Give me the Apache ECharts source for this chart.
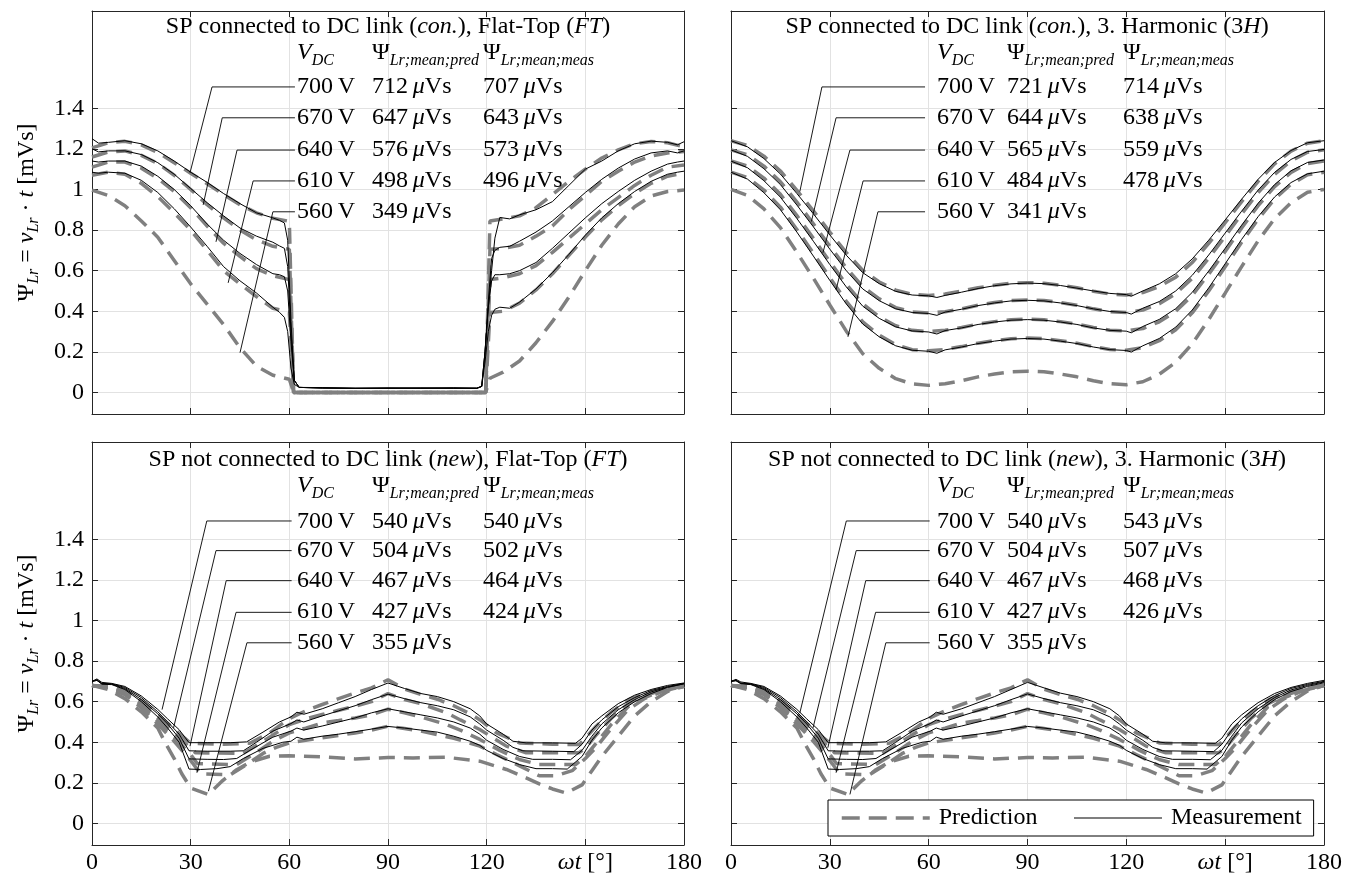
<!DOCTYPE html>
<html><head><meta charset="utf-8">
<script src="https://cdn.jsdelivr.net/npm/echarts@6/dist/echarts.min.js"></script>
<style>html,body{margin:0;padding:0;background:#fff}#c{width:1358px;height:884px}</style>
</head><body><div id="c"></div><script>
// ---------- DATA ----------
const voltLabels = ['700 V','670 V','640 V','610 V','560 V'];
const tlPredText = ['712','647','576','498','349'];
const tlMeasText = ['707','643','573','496'];
const trPredText = ['721','644','565','484','341'];
const trMeasText = ['714','638','559','478'];
const blPredText = ['540','504','467','427','355'];
const blMeasText = ['540','502','464','424'];
const brPredText = ['540','504','467','427','355'];
const brMeasText = ['543','507','468','426'];
const yTicks = [0,0.2,0.4,0.6,0.8,1,1.2,1.4];

// Top-left: SP con., Flat-Top
const tlPredX = [0,5,10,15,20,25,30,35,40,45,50,55,60,61.3,119.7,121,125,130,135,140,145,150,155,160,165,170,175,180];
const tlP700 = [1.205,1.23,1.237,1.22,1.182,1.132,1.08,1.028,0.975,0.925,0.885,0.858,0.843,0,0,0.845,0.855,0.87,0.91,0.975,1.04,1.10,1.155,1.195,1.225,1.236,1.23,1.21];
const tlP670 = [1.16,1.185,1.19,1.168,1.128,1.07,1.0,0.925,0.86,0.8,0.752,0.72,0.705,0,0,0.705,0.71,0.725,0.77,0.82,0.9,0.97,1.04,1.09,1.135,1.165,1.18,1.187];
const tlP640 = [1.11,1.135,1.135,1.105,1.055,0.99,0.91,0.82,0.735,0.67,0.61,0.575,0.556,0,0,0.556,0.565,0.585,0.625,0.69,0.76,0.83,0.9,0.96,1.02,1.07,1.11,1.12];
const tlP610 = [1.07,1.085,1.075,1.03,0.965,0.885,0.8,0.7,0.6,0.535,0.472,0.415,0.395,0,0,0.394,0.40,0.44,0.505,0.585,0.675,0.765,0.85,0.92,0.98,1.03,1.065,1.08];
const tlP560 = [0.997,0.97,0.92,0.845,0.765,0.65,0.535,0.435,0.335,0.22,0.13,0.085,0.065,0,0,0.07,0.1,0.155,0.245,0.35,0.47,0.6,0.725,0.83,0.915,0.968,0.99,0.997];
const tlMeasX = [0,2,5,10,15,20,25,30,35,40,45,50,55,57,58.5,59.5,60.5,61.5,63,70,80,90,100,110,117,118.5,119.5,120.5,121.5,122.5,124,127,130,135,140,145,150,155,160,165,170,175,178,180];
const tlM700 = [1.25,1.228,1.232,1.24,1.225,1.19,1.14,1.085,1.035,0.98,0.93,0.885,0.86,0.848,0.835,0.75,0.35,0.06,0.025,0.024,0.02,0.022,0.021,0.023,0.02,0.03,0.2,0.42,0.6,0.76,0.862,0.855,0.875,0.9,0.94,1.02,1.1,1.14,1.19,1.225,1.238,1.232,1.22,1.235];
const tlM670 = [1.2,1.185,1.19,1.19,1.172,1.132,1.075,1.005,0.935,0.87,0.81,0.77,0.74,0.722,0.71,0.62,0.3,0.06,0.025,0.022,0.021,0.022,0.02,0.022,0.021,0.03,0.2,0.45,0.66,0.7,0.715,0.72,0.745,0.79,0.845,0.915,0.985,1.05,1.105,1.15,1.18,1.19,1.18,1.19];
const tlM640 = [1.14,1.135,1.14,1.14,1.115,1.065,1.0,0.92,0.83,0.75,0.685,0.63,0.585,0.58,0.57,0.5,0.25,0.06,0.025,0.022,0.02,0.021,0.022,0.02,0.022,0.03,0.2,0.42,0.55,0.58,0.58,0.585,0.6,0.64,0.71,0.785,0.86,0.93,0.99,1.045,1.09,1.125,1.135,1.14];
const tlM610 = [1.085,1.08,1.085,1.08,1.045,0.985,0.905,0.815,0.72,0.62,0.55,0.49,0.42,0.395,0.37,0.3,0.12,0.04,0.025,0.022,0.021,0.02,0.022,0.021,0.02,0.03,0.15,0.3,0.38,0.41,0.42,0.415,0.445,0.51,0.59,0.68,0.775,0.86,0.93,0.99,1.04,1.075,1.085,1.09];

// Top-right: SP con., 3rd harmonic
const trPredX = [0,5,10,15,20,25,30,35,40,45,50,55,60,65,70,75,80,85,90,95,100,105,110,115,120,125,130,135,140,145,150,155,160,165,170,175,180];
const trP700 = [1.24,1.217,1.164,1.091,0.996,0.895,0.79,0.689,0.601,0.544,0.504,0.483,0.478,0.485,0.499,0.516,0.528,0.538,0.541,0.538,0.528,0.516,0.499,0.485,0.48,0.492,0.522,0.568,0.64,0.734,0.836,0.94,1.04,1.126,1.189,1.228,1.24];
const trP670 = [1.195,1.171,1.115,1.038,0.938,0.831,0.721,0.614,0.521,0.461,0.418,0.397,0.391,0.398,0.412,0.43,0.443,0.453,0.456,0.453,0.443,0.43,0.412,0.398,0.394,0.406,0.437,0.487,0.562,0.661,0.769,0.879,0.984,1.074,1.141,1.183,1.195];
const trP640 = [1.14,1.115,1.056,0.976,0.871,0.759,0.644,0.533,0.436,0.373,0.329,0.306,0.30,0.307,0.32,0.337,0.349,0.358,0.361,0.358,0.349,0.337,0.32,0.307,0.303,0.315,0.348,0.40,0.478,0.583,0.695,0.81,0.92,1.014,1.084,1.128,1.14];
const trP610 = [1.085,1.059,0.997,0.913,0.803,0.686,0.566,0.449,0.348,0.282,0.235,0.211,0.205,0.212,0.226,0.243,0.255,0.265,0.268,0.265,0.255,0.243,0.226,0.212,0.208,0.221,0.255,0.309,0.392,0.50,0.619,0.74,0.854,0.953,1.026,1.072,1.085];
const trP560 = [1.0,0.971,0.904,0.812,0.691,0.563,0.431,0.302,0.191,0.119,0.068,0.042,0.035,0.043,0.058,0.077,0.091,0.102,0.105,0.102,0.091,0.077,0.058,0.043,0.038,0.053,0.09,0.149,0.24,0.359,0.489,0.62,0.747,0.856,0.935,0.986,1.0];
const trMeasX = [0,5,10,15,20,25,30,35,40,45,50,55,60,62.5,65,70,75,80,85,90,95,100,105,110,115,120,121.5,125,130,135,140,145,150,155,160,165,170,175,180];
const trM700 = [1.24,1.21,1.152,1.076,0.98,0.88,0.776,0.676,0.59,0.536,0.498,0.48,0.476,0.468,0.478,0.494,0.512,0.526,0.535,0.539,0.536,0.527,0.514,0.5,0.488,0.482,0.474,0.5,0.535,0.585,0.658,0.75,0.85,0.952,1.05,1.133,1.192,1.23,1.24];
const trM670 = [1.195,1.163,1.102,1.024,0.923,0.816,0.706,0.6,0.51,0.452,0.412,0.394,0.389,0.38,0.396,0.41,0.428,0.441,0.451,0.454,0.451,0.441,0.428,0.412,0.399,0.394,0.386,0.415,0.448,0.5,0.577,0.677,0.785,0.893,0.997,1.084,1.148,1.187,1.197];
const trM640 = [1.14,1.107,1.043,0.962,0.857,0.745,0.63,0.52,0.425,0.365,0.323,0.303,0.298,0.288,0.305,0.318,0.335,0.347,0.356,0.359,0.356,0.347,0.335,0.318,0.306,0.302,0.294,0.325,0.36,0.413,0.493,0.598,0.71,0.824,0.932,1.024,1.092,1.133,1.145];
const trM610 = [1.085,1.051,0.984,0.9,0.79,0.672,0.552,0.436,0.337,0.274,0.23,0.208,0.203,0.193,0.21,0.224,0.241,0.253,0.263,0.266,0.263,0.253,0.241,0.224,0.211,0.207,0.199,0.23,0.266,0.322,0.406,0.515,0.634,0.754,0.866,0.963,1.034,1.077,1.09];

// Bottom-left: SP new, Flat-Top  ([angle, value])
const blP700 = [[0,0.68],[5,0.675],[10,0.655],[15,0.605],[20,0.535],[25,0.465],[30,0.395],[40,0.39],[48,0.395],[54,0.446],[60,0.517],[65,0.555],[70,0.586],[75,0.615],[80,0.643],[85,0.668],[90,0.708],[95,0.662],[100,0.635],[105,0.612],[110,0.58],[115,0.54],[118,0.51],[123,0.446],[130,0.397],[140,0.39],[148.2,0.389],[153.3,0.479],[158,0.55],[163.4,0.611],[168,0.64],[173.5,0.66],[180,0.676]];
const blP670 = [[0,0.68],[5,0.672],[10,0.648],[15,0.59],[20,0.52],[25,0.445],[30,0.37],[31.5,0.348],[46,0.345],[52,0.405],[60,0.487],[65,0.515],[70,0.537],[75,0.558],[80,0.578],[85,0.6],[90,0.64],[95,0.61],[100,0.59],[107.8,0.545],[112,0.51],[117.9,0.463],[126,0.381],[132,0.348],[148,0.348],[150,0.37],[153,0.43],[158,0.52],[163,0.59],[168,0.63],[173,0.655],[180,0.676]];
const blP640 = [[0,0.68],[5,0.67],[10,0.642],[15,0.58],[20,0.505],[25,0.425],[30,0.34],[32,0.295],[44,0.29],[50,0.35],[55,0.405],[60,0.446],[65,0.47],[70,0.495],[75,0.507],[80,0.52],[85,0.535],[90,0.563],[95,0.545],[100,0.525],[107.8,0.487],[112,0.46],[117.9,0.414],[124,0.36],[130,0.315],[136,0.29],[147,0.29],[150,0.33],[153,0.39],[158,0.49],[163,0.575],[168,0.62],[173,0.65],[180,0.676]];
const blP610 = [[0,0.68],[5,0.668],[10,0.635],[15,0.57],[20,0.49],[25,0.405],[30,0.31],[33,0.245],[42,0.24],[47,0.29],[52,0.345],[56,0.375],[60,0.397],[70,0.422],[80,0.446],[85,0.46],[90,0.479],[95,0.468],[100,0.455],[110,0.42],[117.9,0.381],[123,0.34],[128,0.3],[136,0.235],[141,0.235],[146,0.26],[150,0.32],[153,0.37],[158,0.47],[163,0.56],[168,0.615],[173,0.648],[180,0.676]];
const blP560 = [[0,0.68],[5,0.66],[10,0.615],[15,0.55],[20,0.47],[22.3,0.397],[25,0.32],[27.3,0.245],[30,0.175],[35.4,0.143],[39.5,0.208],[44,0.265],[48,0.302],[54,0.331],[60,0.333],[70,0.328],[80,0.318],[87.5,0.323],[90,0.325],[97.6,0.323],[107.8,0.326],[117.9,0.307],[126,0.266],[132,0.225],[136,0.195],[140,0.17],[144.2,0.15],[149,0.19],[152,0.26],[155,0.33],[160,0.43],[165,0.53],[170,0.6],[175,0.65],[180,0.676]];
const blM700 = [[0,0.70],[1.5,0.712],[3,0.695],[6,0.69],[10,0.675],[15,0.628],[20,0.562],[23,0.515],[26.5,0.462],[29.5,0.398],[35,0.398],[42,0.398],[47,0.402],[52,0.45],[57,0.5],[60.5,0.525],[62.3,0.548],[64.4,0.538],[70,0.565],[75,0.595],[80,0.625],[85,0.66],[90,0.692],[95,0.665],[100,0.64],[105,0.625],[110,0.6],[115,0.565],[117.9,0.53],[120,0.49],[125,0.44],[128,0.405],[132,0.397],[140,0.397],[147,0.395],[149,0.42],[152,0.49],[155,0.53],[160,0.59],[165,0.632],[170,0.66],[175,0.68],[180,0.692]];
const blM670 = [[0,0.70],[1.5,0.708],[3,0.69],[6,0.688],[10,0.67],[15,0.62],[20,0.55],[23,0.5],[26.5,0.44],[29.5,0.358],[35,0.356],[42,0.356],[46,0.358],[50,0.4],[55,0.455],[60.5,0.492],[62.3,0.51],[64.4,0.5],[70,0.53],[75,0.555],[80,0.58],[85,0.61],[90,0.637],[95,0.615],[100,0.595],[105,0.58],[110,0.56],[115,0.525],[117.9,0.49],[120,0.46],[125,0.41],[128,0.375],[131,0.358],[140,0.356],[146.5,0.354],[149,0.39],[152,0.46],[155,0.51],[160,0.575],[165,0.62],[170,0.655],[175,0.675],[180,0.69]];
const blM640 = [[0,0.70],[1.5,0.705],[3,0.688],[6,0.686],[10,0.665],[15,0.61],[20,0.54],[23,0.49],[26.5,0.42],[29.5,0.318],[35,0.316],[40,0.315],[44,0.32],[48,0.36],[55,0.425],[60.5,0.455],[62.3,0.47],[64.4,0.46],[70,0.48],[75,0.5],[80,0.52],[85,0.545],[90,0.565],[95,0.55],[100,0.535],[105,0.52],[110,0.5],[115,0.47],[117.9,0.44],[120,0.41],[125,0.365],[130,0.33],[134,0.316],[140,0.316],[145.5,0.314],[149,0.36],[152,0.43],[155,0.49],[160,0.56],[165,0.61],[170,0.648],[175,0.672],[180,0.688]];
const blM610 = [[0,0.70],[1.5,0.705],[3,0.686],[6,0.684],[10,0.66],[15,0.6],[20,0.525],[23,0.47],[26.5,0.4],[29.5,0.268],[33,0.266],[38,0.27],[42,0.28],[46,0.32],[52,0.37],[58,0.4],[60.5,0.405],[62.3,0.425],[64.4,0.415],[70,0.43],[75,0.44],[80,0.452],[85,0.465],[90,0.478],[95,0.47],[100,0.46],[105,0.45],[110,0.43],[115,0.405],[117.9,0.385],[120,0.36],[125,0.32],[130,0.29],[135,0.27],[140,0.27],[144.5,0.268],[149,0.33],[152,0.41],[155,0.47],[160,0.545],[165,0.6],[170,0.64],[175,0.67],[180,0.688]];

// Bottom-right: SP new, 3rd harmonic
const brP700 = [[0,0.68],[5,0.675],[10,0.655],[15,0.605],[20,0.535],[25,0.465],[30,0.395],[40,0.39],[48,0.395],[54,0.446],[60,0.517],[65,0.555],[70,0.586],[75,0.615],[80,0.643],[85,0.668],[90,0.708],[95,0.662],[100,0.635],[105,0.612],[110,0.58],[115,0.54],[118,0.51],[123,0.446],[130,0.397],[140,0.39],[148.2,0.389],[153.3,0.479],[158,0.55],[163.4,0.611],[168,0.64],[173.5,0.662],[180,0.68]];
const brP670 = [[0,0.68],[5,0.672],[10,0.648],[15,0.59],[20,0.52],[25,0.445],[30,0.37],[31.5,0.348],[46,0.345],[52,0.405],[60,0.487],[65,0.515],[70,0.537],[75,0.558],[80,0.578],[85,0.6],[90,0.64],[95,0.61],[100,0.59],[107.8,0.545],[112,0.51],[117.9,0.463],[126,0.381],[132,0.348],[148,0.348],[150,0.37],[153,0.43],[158,0.52],[163,0.59],[168,0.63],[173,0.657],[180,0.68]];
const brP640 = [[0,0.68],[5,0.67],[10,0.642],[15,0.58],[20,0.505],[25,0.425],[30,0.34],[32,0.295],[44,0.29],[50,0.35],[55,0.405],[60,0.446],[65,0.47],[70,0.495],[75,0.507],[80,0.52],[85,0.535],[90,0.563],[95,0.545],[100,0.525],[107.8,0.487],[112,0.46],[117.9,0.414],[124,0.36],[130,0.315],[136,0.29],[147,0.29],[150,0.33],[153,0.39],[158,0.49],[163,0.575],[168,0.62],[173,0.652],[180,0.68]];
const brP610 = [[0,0.68],[5,0.668],[10,0.635],[15,0.57],[20,0.49],[25,0.405],[30,0.31],[33,0.245],[42,0.24],[47,0.29],[52,0.345],[56,0.375],[60,0.397],[70,0.422],[80,0.446],[85,0.46],[90,0.479],[95,0.468],[100,0.455],[110,0.42],[117.9,0.381],[123,0.34],[128,0.3],[136,0.235],[141,0.235],[146,0.26],[150,0.32],[153,0.37],[158,0.47],[163,0.56],[168,0.615],[173,0.65],[180,0.68]];
const brP560 = [[0,0.68],[5,0.66],[10,0.615],[15,0.55],[20,0.47],[22.3,0.397],[25,0.32],[27.3,0.245],[30,0.175],[35.4,0.143],[39.5,0.208],[44,0.265],[48,0.302],[54,0.331],[60,0.333],[70,0.328],[80,0.318],[87.5,0.323],[90,0.325],[97.6,0.323],[107.8,0.326],[117.9,0.307],[126,0.266],[132,0.225],[136,0.195],[140,0.17],[144.2,0.15],[149,0.19],[152,0.26],[155,0.33],[160,0.43],[165,0.53],[170,0.6],[175,0.652],[180,0.68]];
const brM700 = [[0,0.70],[1.5,0.71],[3,0.697],[6,0.69],[10,0.675],[15,0.628],[20,0.562],[23,0.515],[26.5,0.462],[29.5,0.398],[35,0.398],[42,0.398],[47,0.402],[52,0.45],[57,0.5],[60.5,0.525],[62.3,0.548],[64.4,0.538],[70,0.565],[75,0.595],[80,0.625],[85,0.66],[90,0.695],[95,0.668],[100,0.642],[105,0.625],[110,0.6],[115,0.565],[117.9,0.53],[120,0.49],[125,0.44],[128,0.405],[132,0.397],[140,0.397],[147,0.395],[149,0.42],[152,0.49],[155,0.535],[160,0.595],[165,0.64],[170,0.67],[175,0.69],[180,0.705]];
const brM670 = [[0,0.70],[1.5,0.706],[3,0.692],[6,0.688],[10,0.67],[15,0.62],[20,0.55],[23,0.5],[26.5,0.44],[29.5,0.358],[35,0.356],[42,0.356],[46,0.358],[50,0.4],[55,0.455],[60.5,0.492],[62.3,0.51],[64.4,0.5],[70,0.53],[75,0.555],[80,0.58],[85,0.61],[90,0.638],[95,0.615],[100,0.595],[105,0.58],[110,0.56],[115,0.525],[117.9,0.49],[120,0.46],[125,0.41],[128,0.375],[131,0.358],[140,0.356],[146.5,0.354],[149,0.39],[152,0.46],[155,0.515],[160,0.58],[165,0.63],[170,0.665],[175,0.685],[180,0.7]];
const brM640 = [[0,0.70],[1.5,0.704],[3,0.69],[6,0.686],[10,0.665],[15,0.61],[20,0.54],[23,0.49],[26.5,0.42],[29.5,0.318],[35,0.316],[40,0.315],[44,0.32],[48,0.36],[55,0.425],[60.5,0.455],[62.3,0.47],[64.4,0.46],[70,0.48],[75,0.5],[80,0.52],[85,0.545],[90,0.565],[95,0.55],[100,0.535],[105,0.52],[110,0.5],[115,0.47],[117.9,0.44],[120,0.41],[125,0.365],[130,0.33],[134,0.316],[140,0.316],[145.5,0.314],[149,0.36],[152,0.43],[155,0.495],[160,0.565],[165,0.62],[170,0.658],[175,0.68],[180,0.697]];
const brM610 = [[0,0.70],[1.5,0.703],[3,0.688],[6,0.684],[10,0.66],[15,0.6],[20,0.525],[23,0.47],[26.5,0.4],[29.5,0.268],[33,0.266],[38,0.27],[42,0.28],[46,0.32],[52,0.37],[58,0.4],[60.5,0.405],[62.3,0.425],[64.4,0.415],[70,0.43],[75,0.44],[80,0.452],[85,0.465],[90,0.478],[95,0.47],[100,0.46],[105,0.45],[110,0.43],[115,0.405],[117.9,0.385],[120,0.36],[125,0.32],[130,0.29],[135,0.27],[140,0.27],[144.5,0.268],[149,0.33],[152,0.41],[155,0.475],[160,0.55],[165,0.61],[170,0.65],[175,0.675],[180,0.693]];

// Annotation leader lines, in data coordinates [angle, value]
const tlLeaders = [[[61.7,1.505],[36.5,1.505],[29.8,1.082]],[[61.7,1.353],[39.6,1.353],[33.8,0.924]],[[61.7,1.194],[44.1,1.194],[37.7,0.742]],[[61.7,1.042],[49.0,1.042],[41.4,0.540]],[[61.7,0.890],[55.0,0.890],[45.0,0.196]]];
const trLeaders = [[[58.9,1.505],[27.6,1.505],[20.9,0.990]],[[58.9,1.353],[31.9,1.353],[24.4,0.842]],[[58.9,1.194],[36.1,1.194],[27.9,0.688]],[[58.9,1.042],[40.1,1.042],[31.9,0.506]],[[58.9,0.890],[44.6,0.890],[35.5,0.274]]];
const blLeaders = [[[60.7,1.49],[34.9,1.49],[21.3,0.561]],[[60.7,1.344],[37.7,1.344],[24.8,0.471]],[[60.7,1.196],[40.8,1.196],[29.8,0.381]],[[60.7,1.040],[43.8,1.040],[31.9,0.250]],[[60.7,0.890],[47.1,0.890],[35.4,0.159]]];
const brLeaders = [[[60.3,1.49],[35.0,1.49],[20.9,0.545]],[[60.3,1.344],[38.0,1.344],[24.9,0.471]],[[60.3,1.196],[40.9,1.196],[29.4,0.373]],[[60.3,1.040],[43.9,1.040],[31.9,0.250]],[[60.3,0.890],[47.0,0.890],[36.1,0.143]]];

const titles = [
  '{n|SP connected to DC link (}{i|con.}{n|), Flat-Top (}{i|FT}{n|)}',
  '{n|SP connected to DC link (}{i|con.}{n|), 3. Harmonic (3}{i|H}{n|)}',
  '{n|SP not connected to DC link (}{i|new}{n|), Flat-Top (}{i|FT}{n|)}',
  '{n|SP not connected to DC link (}{i|new}{n|), 3. Harmonic (3}{i|H}{n|)}'
];

// ---------- STYLE / LAYOUT ----------
const FONT = "'Liberation Serif','Times New Roman',serif";
const GRAY = '#808080';
const AX = '#262626';
const FS = 24;
const grids = [
  {left:92, top:11, width:592, height:403},
  {left:731, top:11, width:593, height:403},
  {left:92, top:442, width:592, height:403},
  {left:731, top:442, width:593, height:403}
];
const RICH = {
  n:{fontFamily:FONT, fontSize:FS, color:'#000'},
  i:{fontFamily:FONT, fontSize:FS, fontStyle:'italic', color:'#000'},
  s:{fontFamily:FONT, fontSize:16, fontStyle:'italic', color:'#000', padding:[15,0,0,0]}
};

const xAxes = [], yAxes = [];
grids.forEach((g, gi) => {
  const bottomRow = gi >= 2, leftCol = gi % 2 === 0;
  xAxes.push({
    type:'value', gridIndex:gi, min:0, max:180, interval:30, position:'bottom',
    axisLine:{onZero:false, lineStyle:{color:AX, width:1}},
    axisTick:{inside:true, length:6, lineStyle:{color:AX}},
    splitLine:{show:true, lineStyle:{color:'#e2e2e2', width:1}},
    axisLabel:{show:bottomRow, margin:6, color:'#000', fontFamily:FONT, fontSize:FS,
      formatter:v => v === 150 ? '{i|ωt} [°]' : String(v), rich:{i:RICH.i}}
  });
  xAxes.push({
    type:'value', gridIndex:gi, min:0, max:180, interval:30, position:'top',
    axisLine:{onZero:false, lineStyle:{color:AX, width:1}},
    axisTick:{inside:true, length:6, lineStyle:{color:AX}},
    splitLine:{show:false}, axisLabel:{show:false}
  });
  yAxes.push({
    type:'value', gridIndex:gi, min:-0.106, max:1.879, position:'left',
    axisLine:{show:true, onZero:false, lineStyle:{color:AX, width:1}},
    axisTick:{inside:true, length:6, lineStyle:{color:AX}, customValues:yTicks},
    splitLine:{show:true, lineStyle:{color:'#e2e2e2', width:1}},
    axisLabel:{show:leftCol, customValues:yTicks, margin:8, color:'#000', fontFamily:FONT, fontSize:FS},
    name: leftCol ? '{n|Ψ}{s|Lr}{n| = }{i|v}{s|Lr}{n| · }{i|t}{n| [mVs]}' : '',
    nameLocation:'middle', nameGap:50, nameRotate:90,
    nameTextStyle:{rich:RICH}
  });
  yAxes.push({
    type:'value', gridIndex:gi, min:-0.106, max:1.879, position:'right',
    axisLine:{show:true, onZero:false, lineStyle:{color:AX, width:1}},
    axisTick:{inside:true, length:6, lineStyle:{color:AX}, customValues:yTicks},
    splitLine:{show:false}, axisLabel:{show:false}
  });
});

const series = [];
function zipXY(xs, ys){ return xs.map((x, i) => [x, ys[i]]); }
function pred(gi, data){
  series.push({type:'line', name:'Prediction', xAxisIndex:2*gi, yAxisIndex:2*gi, data,
    symbol:'none', silent:true, z:2, itemStyle:{color:GRAY}, lineStyle:{color:GRAY, width:3.5, type:[16,9]}});
}
function meas(gi, data){
  series.push({type:'line', name:'Measurement', xAxisIndex:2*gi, yAxisIndex:2*gi, data,
    symbol:'none', silent:true, z:3, itemStyle:{color:'#000'}, lineStyle:{color:'#000', width:1}});
}
function leaders(gi, arr){
  arr.forEach(d => series.push({type:'line', name:'leader', xAxisIndex:2*gi, yAxisIndex:2*gi, data:d,
    symbol:'none', silent:true, z:4, lineStyle:{color:'#000', width:0.9}}));
}
[tlP700,tlP670,tlP640,tlP610,tlP560].forEach(v => pred(0, zipXY(tlPredX, v)));
[tlM700,tlM670,tlM640,tlM610].forEach(v => meas(0, zipXY(tlMeasX, v)));
[trP700,trP670,trP640,trP610,trP560].forEach(v => pred(1, zipXY(trPredX, v)));
[trM700,trM670,trM640,trM610].forEach(v => meas(1, zipXY(trMeasX, v)));
[blP700,blP670,blP640,blP610,blP560].forEach(v => pred(2, v));
[blM700,blM670,blM640,blM610].forEach(v => meas(2, v));
[brP700,brP670,brP640,brP610,brP560].forEach(v => pred(3, v));
[brM700,brM670,brM640,brM610].forEach(v => meas(3, v));
leaders(0, tlLeaders); leaders(1, trLeaders); leaders(2, blLeaders); leaders(3, brLeaders);

// ---------- TEXT TABLES ----------
const graphic = [];
function txt(x, y, text, align){
  graphic.push({type:'text', x, y, z:100, silent:true,
    style:{text, rich:RICH, fontFamily:FONT, fontSize:FS, fill:'#000', align:align||'left', verticalAlign:'middle'}});
}
const mu = v => '{n|' + v + '\u2009}{i|μ}{n|Vs}';
const volt = v => '{n|' + v.replace(' ', '\u2009') + '}';
const panels = [
  {cx:388, ty:27, hy:53, rows:[87,118,150,181,212], cols:[297,372,483], p:tlPredText, m:tlMeasText},
  {cx:1027, ty:27, hy:53, rows:[87,118,150,181,212], cols:[937,1007,1123], p:trPredText, m:trMeasText},
  {cx:388, ty:460, hy:486, rows:[522,551,581,612,643], cols:[297,372,483], p:blPredText, m:blMeasText},
  {cx:1027, ty:460, hy:486, rows:[522,551,581,612,643], cols:[937,1007,1123], p:brPredText, m:brMeasText}
];
panels.forEach((p, pi) => {
  txt(p.cx, p.ty, titles[pi], 'center');
  txt(p.cols[0], p.hy, '{i|V}{s|DC}');
  txt(p.cols[1], p.hy, '{n|Ψ}{s|Lr;mean;pred}');
  txt(p.cols[2], p.hy, '{n|Ψ}{s|Lr;mean;meas}');
  p.rows.forEach((ry, ri) => {
    txt(p.cols[0], ry, volt(voltLabels[ri]));
    txt(p.cols[1], ry, mu(p.p[ri]));
    if (p.m[ri]) txt(p.cols[2], ry, mu(p.m[ri]));
  });
});

const chart = echarts.init(document.getElementById('c'), null, {renderer:'canvas'});
chart.setOption({
  animation:false,
  backgroundColor:'#fff',
  grid: grids.map(g => Object.assign({containLabel:false}, g)),
  xAxis: xAxes,
  yAxis: yAxes,
  legend:{
    data:[
      {name:'Prediction', lineStyle:{color:GRAY, width:3.5, type:[18,9]}},
      {name:'Measurement', lineStyle:{color:'#000', width:1.2}}
    ],
    left:828, top:800, orient:'horizontal',
    itemWidth:88, itemHeight:14, itemGap:36, padding:[6,12],
    itemStyle:{opacity:0},
    borderColor:'#000', borderWidth:1, backgroundColor:'#fff', borderRadius:0,
    textStyle:{fontFamily:FONT, fontSize:FS, color:'#000', padding:[0,0,0,4]}, selectedMode:false, z:50
  },
  series,
  graphic
});
</script></body></html>
